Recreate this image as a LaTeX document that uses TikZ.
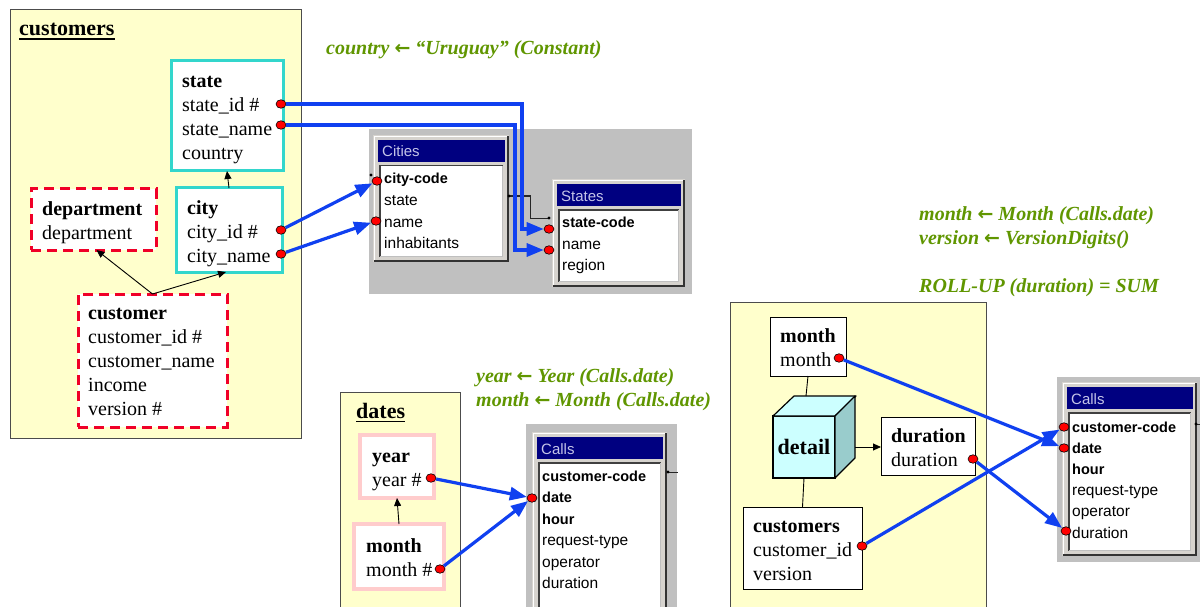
\documentclass[tikz,border=0pt]{standalone}
\usepackage{fontspec}
\setmainfont{Liberation Serif}
\newfontfamily\winfont{Liberation Sans}
\newfontfamily\symfont{DejaVu Sans}
\usetikzlibrary{arrows.meta,shapes.geometric,calc}

\definecolor{paper}{RGB}{255,255,204}
\definecolor{turq}{RGB}{51,214,204}
\definecolor{dimred}{RGB}{240,0,40}
\definecolor{pinkline}{RGB}{255,204,204}
\definecolor{linkblue}{RGB}{16,64,240}
\definecolor{notegreen}{RGB}{96,150,0}
\definecolor{winnavy}{RGB}{0,0,128}
\definecolor{wingray}{RGB}{214,211,206}
\definecolor{panelgray}{RGB}{192,192,192}
\definecolor{wintitle}{RGB}{196,196,232}
\definecolor{cubefront}{RGB}{204,255,255}
\definecolor{cubeside}{RGB}{153,204,204}

\newcommand\fromarrow{{\symfont\bfseries\fontsize{19}{24}\selectfont ←}}

% a Windows-style table frame: name, x0, y0, x1, y1, caption
\newcommand\winframe[6]{%
  \node[winbox, minimum width={#4-#2}, minimum height={#5-#3}] (#1) at ({(#2+#4)/2},{(#3+#5)/2}) {};
  \draw[white, line width=1.5pt] ({#2+1.5},{#5-2}) -- ({#2+1.5},{#3+1.5}) -- ({#4-2},{#3+1.5});
  \draw[black!80, line width=2pt] ({#2+1},{#5-1}) -- ({#4-1},{#5-1}) -- ({#4-1},{#3+1});
  \fill[winnavy] ({#2+5},{#3+5}) rectangle ({#4-4},{#3+27});
  \node[captext] (#1-cap) at ({#2+9},{#3+22}) {#6};
  \fill[white] ({#2+6},{#3+30}) rectangle ({#4-6},{#5-5});
  \draw[black!75, line width=1.5pt] ({#2+6.75},{#5-5}) -- ({#2+6.75},{#3+30.75}) -- ({#4-6},{#3+30.75});
  \draw[black!25, line width=1pt] ({#2+6.75},{#5-5.5}) -- ({#4-6.5},{#5-5.5}) -- ({#4-6.5},{#3+30.75});
}

\tikzset{
  panel/.style={draw=black!70, line width=1pt, fill=paper},
  lbl/.style={anchor=north west, inner sep=0pt, align=left, font=\fontsize{20}{24}\selectfont},
  boxbase/.style={rectangle, anchor=north west, inner sep=0pt, outer sep=0pt, fill=white},
  turqbox/.style={boxbase, draw=turq, line width=3pt},
  dashbox/.style={boxbase, draw=dimred, line width=3pt, dash pattern=on 10pt off 6pt},
  pinkbox/.style={boxbase, draw=pinkline, line width=3.5pt},
  plainbox/.style={boxbase, draw=black, line width=0.9pt},
  rdot/.style={ellipse, draw=black, line width=0.6pt, fill=red, minimum width=10pt, minimum height=8.5pt, inner sep=0pt},
  link/.style={draw=linkblue, line width=3.2pt, -{Triangle[length=17pt,width=13pt]}},
  stem/.style={draw=black, line width=0.9pt},
  isa/.style={stem, -{Triangle[length=8pt,width=7pt]}},
  note/.style={anchor=north west, inner sep=0pt, align=left, text=notegreen, font=\fontsize{20}{24}\selectfont\bfseries\itshape},
  rowtext/.style={anchor=base west, inner sep=0pt, font=\winfont\fontsize{15.5}{18}\selectfont},
  keyrow/.style={anchor=base west, inner sep=0pt, font=\winfont\bfseries\fontsize{14.5}{18}\selectfont},
  captext/.style={anchor=base west, inner sep=0pt, text=wintitle, font=\winfont\fontsize{15}{16}\selectfont},
  winbox/.style={rectangle, fill=wingray, inner sep=0pt, outer sep=0pt},
  paneltitle/.style={anchor=base west, inner sep=0pt, font=\fontsize{22}{26}\selectfont\bfseries},
}

\begin{document}
\begin{tikzpicture}[x=1pt, y=-1pt]
\useasboundingbox (0,0) rectangle (1200,607);
\clip (0,0) rectangle (1200,607);
\fill[white] (0,0) rectangle (1200,607);

% ---------- customers dimension ----------
\fill[panel] (10,10) rectangle (301,438);
\draw[black!70, line width=1pt] (10,10) rectangle (301,438);
\node[paneltitle] (ctitle) at (19,35.5) {customers};
\draw[line width=1.8pt] ([yshift=-3.5pt]ctitle.base west) -- ([yshift=-3.5pt]ctitle.base east);

\node[turqbox, minimum width=112, minimum height=110] (state) at (171,61) {};
\node[lbl] (state-t) at (182,70.2) {\strut\textbf{state}\\state\_id \#\\state\_name\\country};

\node[turqbox, minimum width=106, minimum height=84] (city) at (176,188) {};
\node[lbl] (city-t) at (187,197.2) {\strut\textbf{city}\\city\_id \#\\city\_name};

\node[dashbox, minimum width=125, minimum height=61] (dept) at (31,189) {};
\node[lbl] (dept-t) at (42,198.2) {\strut\textbf{department}\\department};

\node[dashbox, minimum width=149, minimum height=133] (cust) at (78,294) {};
\node[lbl] (cust-t) at (88,302.7) {\strut\textbf{customer}\\customer\_id \#\\customer\_name\\income\\version \#};

\draw[isa] (city.north) -- (state.south);
\draw[isa] (cust.north) -- ([xshift=3pt]dept.south);
\draw[isa] (cust.north) -- ([xshift=-3pt]city.south);

% ---------- source tables Cities / States ----------
\fill[panelgray] (369,129) rectangle (692,294);
\winframe{cities}{373}{135}{509}{262}{Cities}
\node[keyrow]  (cit-1) at (384,184) {city-code};
\node[rowtext] (cit-2) at (384,205.5) {state};
\node[rowtext] (cit-3) at (384,227) {name};
\node[rowtext] (cit-4) at (384,248.5) {inhabitants};

\winframe{states}{552}{179}{685}{287}{States}
\node[keyrow]  (sta-1) at (562,227.5) {state-code};
\node[rowtext] (sta-2) at (562,249) {name};
\node[rowtext] (sta-3) at (562,270.5) {region};

\coordinate (rel-a) at (509,196);
\coordinate (rel-b) at (549,218);
\draw[black!85, line width=1pt] (rel-a) -- (530,196) -- (530,218) -- (rel-b);
\fill (rel-a) circle (1.6pt);
\fill (rel-b) circle (1.6pt);
\coordinate (rel-c) at (371,175);
\fill (rel-c) circle (1.6pt);

\node[note] (n-country) at (326,37.2) {\strut country \fromarrow\ “Uruguay” (Constant)};

% ---------- dates dimension ----------
\fill[panel] (340,392) rectangle (460,640);
\draw[black!70, line width=1pt] (340,392) rectangle (460,640);
\node[paneltitle] (dtitle) at (356,418) {dates};
\draw[line width=1.8pt] ([yshift=-3.5pt]dtitle.base west) -- ([yshift=-3.5pt]dtitle.base east);

\node[pinkbox, minimum width=74, minimum height=63] (year) at (360,435) {};
\node[lbl] (year-t) at (372,445.2) {\strut\textbf{year}\\year \#};
\node[pinkbox, minimum width=90, minimum height=65] (month) at (354,524) {};
\node[lbl] (month-t) at (366,535.2) {\strut\textbf{month}\\month \#};
\draw[isa] (month.north) -- (year.south);

\node[note] (n-dates) at (476,365.2) {\strut year \fromarrow\ Year (Calls.date)\\month \fromarrow\ Month (Calls.date)};

% ---------- Calls table (dates) ----------
\fill[panelgray] (526,424) rectangle (677,640);
\winframe{callsa}{532}{432}{667}{640}{Calls}
\node[keyrow]  (ca-1) at (542,481) {customer-code};
\node[keyrow]  (ca-2) at (542,502.5) {date};
\node[keyrow]  (ca-3) at (542,524) {hour};
\node[rowtext] (ca-4) at (542,545.5) {request-type};
\node[rowtext] (ca-5) at (542,567) {operator};
\node[rowtext] (ca-6) at (542,588.5) {duration};
\coordinate (stub-a) at (668,472);
\draw[black!85, line width=1pt] (stub-a) -- ++(10,0);
\fill (stub-a) circle (1.6pt);

% ---------- detail cube ----------
\fill[panel] (730,302) rectangle (986,640);
\draw[black!70, line width=1pt] (730,302) rectangle (986,640);

\node[plainbox, minimum width=76, minimum height=59] (rmonth) at (770,317) {};
\node[lbl] (rmonth-t) at (780,325.2) {\strut\textbf{month}\\month};
\node[plainbox, minimum width=94, minimum height=58] (rdur) at (881,417) {};
\node[lbl] (rdur-t) at (891,425.2) {\strut\textbf{duration}\\duration};
\node[plainbox, minimum width=119, minimum height=82] (rcust) at (743,507) {};
\node[lbl] (rcust-t) at (753,515.2) {\strut\textbf{customers}\\customer\_id\\version};

\node[rectangle, draw=black, line width=1.2pt, fill=cubefront, minimum width=62, minimum height=62,
      anchor=north west, inner sep=0pt, outer sep=0pt, font=\fontsize{22}{26}\selectfont\bfseries] (detail) at (773,416) {detail};
\filldraw[fill=cubefront, draw=black, line width=1.2pt, line join=round]
  (detail.north west) -- ++(21,-20) -- ++(62,0) -- (detail.north east) -- cycle;
\filldraw[fill=cubeside, draw=black, line width=1.2pt, line join=round]
  (detail.north east) -- ++(20,-20) -- ++(0,62) -- (detail.south east) -- cycle;
\coordinate (cubetop) at (806,396);
\coordinate (cuberight) at (855,447);

\draw[stem] (rmonth.south) -- (cubetop);
\draw[stem] (detail.south) -- (rcust.north);
\draw[isa] (cuberight) -- (rdur.west |- cuberight);

\node[note] (n-detail) at (919,203.2) {\strut month \fromarrow\ Month (Calls.date)\\version \fromarrow\ VersionDigits()\\[24pt]ROLL-UP (duration) = SUM};

% ---------- Calls table (detail) ----------
\fill[panelgray] (1057,377) rectangle (1200,562);
\winframe{callsb}{1062}{382}{1197}{556}{Calls}
\node[keyrow]  (cb-1) at (1072,432) {customer-code};
\node[keyrow]  (cb-2) at (1072,453.2) {date};
\node[keyrow]  (cb-3) at (1072,474.4) {hour};
\node[rowtext] (cb-4) at (1072,495.6) {request-type};
\node[rowtext] (cb-5) at (1072,516.8) {operator};
\node[rowtext] (cb-6) at (1072,538) {duration};
\coordinate (stub-b) at (1196,424);
\draw[black!85, line width=1pt] (stub-b) -- ++(6,0);
\fill (stub-b) circle (1.6pt);

% ---------- attribute mapping dots ----------
\node[rdot] (d-sid)   at (281,104) {};
\node[rdot] (d-sname) at (281,125) {};
\node[rdot] (d-cid)   at (281,230) {};
\node[rdot] (d-cname) at (281,254) {};
\node[rdot] (d-ccode) at (377,181) {};
\node[rdot] (d-cityn) at (376,221) {};
\node[rdot] (d-scode) at (549,229) {};
\node[rdot] (d-stn)   at (549,250) {};
\node[rdot] (d-year)  at (431,478) {};
\node[rdot] (d-month) at (440,569) {};
\node[rdot] (d-cadate) at (532,498) {};
\node[rdot] (d-rmonth) at (839,358) {};
\node[rdot] (d-rdur)  at (973,459) {};
\node[rdot] (d-rcust) at (862,546) {};
\node[rdot] (d-cbcode) at (1064,427) {};
\node[rdot] (d-cbdate) at (1064,448) {};
\node[rdot] (d-cbdur) at (1066,531) {};

% ---------- mappings ----------
\draw[link] (d-sid) -- ++(241,0) |- (d-scode);
\draw[link] (d-sname) -- ++(234,0) |- (d-stn);
\draw[link] (d-cid) -- (d-ccode);
\draw[link] (d-cname) -- (d-cityn);
\draw[link] (d-year) -- (d-cadate);
\draw[link] (d-month) -- (d-cadate);
\draw[link] (d-rmonth) -- (d-cbdate);
\draw[link] (d-rcust) -- (d-cbcode);
\draw[link] (d-rdur) -- (d-cbdur);
\end{tikzpicture}
\end{document}
